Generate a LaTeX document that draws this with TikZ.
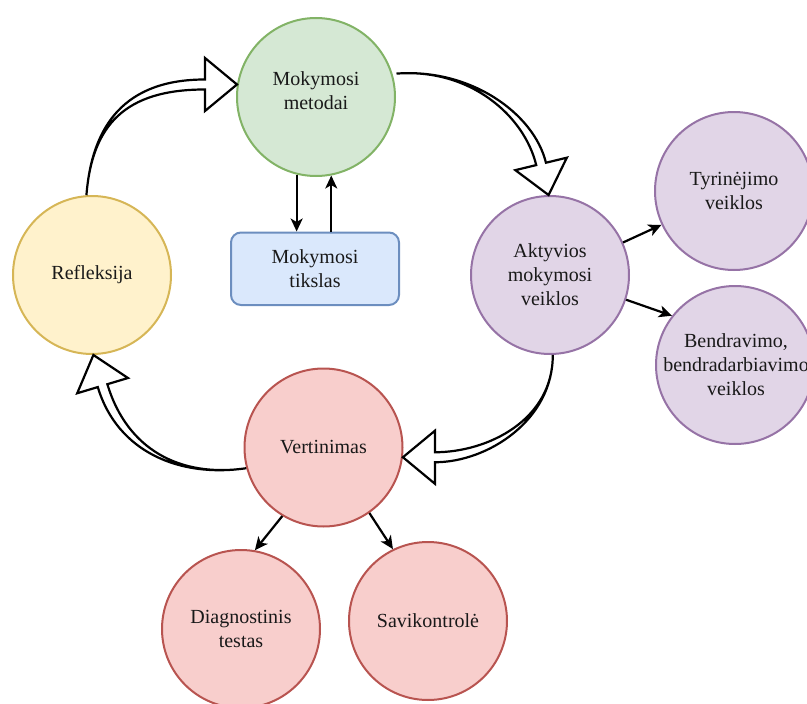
\documentclass[tikz,border=0pt]{standalone}
\usepackage{fontspec}
\setmainfont{Liberation Serif}
\usetikzlibrary{arrows.meta}

\definecolor{greenfill}{HTML}{D5E8D4}
\definecolor{greenline}{HTML}{82B366}
\definecolor{bluefill}{HTML}{DAE8FC}
\definecolor{blueline}{HTML}{6C8EBF}
\definecolor{yellowfill}{HTML}{FFF2CC}
\definecolor{yellowline}{HTML}{D6B656}
\definecolor{purplefill}{HTML}{E1D5E7}
\definecolor{purpleline}{HTML}{9673A6}
\definecolor{redfill}{HTML}{F8CECC}
\definecolor{redline}{HTML}{B85450}

% Curved hollow arrow: #1 start, #2 first control point, #3 tip,
% #4 direction of the head (degrees), #5 distance of second control from tip
\newcommand{\flexarrow}[5]{%
  \begin{scope}[shift={(#3)}, rotate=#4]
    \coordinate (fa-ha) at (-32,5);
    \coordinate (fa-hb) at (-32,-5);
    \coordinate (fa-wa) at (-32,26.5);
    \coordinate (fa-wb) at (-32,-26.5);
    \coordinate (fa-tip) at (0,0);
    \coordinate (fa-ca) at (-#5,5);
    \coordinate (fa-cb) at (-#5,-5);
  \end{scope}
  \draw[hollowarrow] (#1) .. controls (#2) and (fa-ca) .. (fa-ha)
    -- (fa-wa) -- (fa-tip) -- (fa-wb) -- (fa-hb)
    .. controls (fa-cb) and (#2) .. (#1) -- cycle;
}

\begin{document}
\begin{tikzpicture}[x=1pt, y=-1pt,
  bubble/.style={circle, line width=2pt, minimum size=158pt, inner sep=0pt},
  goalbox/.style={rectangle, rounded corners=10pt, line width=2pt,
    minimum width=168pt, minimum height=72.5pt, inner sep=0pt},
  caption/.style={font=\fontsize{20}{24}\selectfont, align=center, text=black!90, inner sep=0pt},
  arr/.style={-{Stealth[length=13pt, width=12pt, inset=3.5pt]}, line width=2.2pt},
  hollowarrow/.style={draw=black, fill=white, line width=2.2pt, line join=miter}]

\useasboundingbox (0,0) rectangle (807,704);

% circles
\node[bubble, draw=greenline, fill=greenfill] (metodai) at (316,97) {};
\node[bubble, draw=purpleline, fill=purplefill] (akt) at (550,275) {};
\node[bubble, draw=purpleline, fill=purplefill] (tyr) at (734,191) {};
\node[bubble, draw=purpleline, fill=purplefill] (bend) at (735,365) {};
\node[bubble, draw=yellowline, fill=yellowfill] (refl) at (92,275) {};
\node[bubble, draw=redline, fill=redfill] (vert) at (323.5,447.5) {};
\node[bubble, draw=redline, fill=redfill] (diag) at (241,629) {};
\node[bubble, draw=redline, fill=redfill] (savi) at (428,621) {};
\node[goalbox, draw=blueline, fill=bluefill] (tikslas) at (315,268.75) {};

% captions
\node[caption] (metodai-t) at ([yshift=6pt]metodai.center) {Mokymosi\\metodai};
\node[caption] (akt-t) at (akt.center) {Aktyvios\\mokymosi\\veiklos};
\node[caption] (tyr-t) at (tyr.center) {Tyrinėjimo\\veiklos};
\node[caption] (bend-t) at ([xshift=1pt]bend.center) {Bendravimo,\\bendradarbiavimo\\veiklos};
\node[caption] (refl-t) at (refl.center) {Refleksija};
\node[caption] (vert-t) at (vert.center) {Vertinimas};
\node[caption] (diag-t) at (diag.center) {Diagnostinis\\testas};
\node[caption] (savi-t) at (savi.center) {Savikontrolė};
\node[caption] (tikslas-t) at (tikslas.center) {Mokymosi\\tikslas};

% plain connectors
\draw[arr] (metodai.256) -- (metodai.256 |- tikslas.north);
\draw[arr] (metodai.281 |- tikslas.north) -- (metodai.281);
\draw[arr] (akt.24) -- (tyr.205);
\draw[arr] (akt.342) -- (bend.142);
\draw[arr] (vert.239) -- (diag.80);
\draw[arr] (vert.305) -- (savi.116);

% cycle of hollow arrows
\flexarrow{refl.94}{92,125}{metodai.171}{0}{112}
\flexarrow{[xshift=4pt]metodai.17}{470,68}{akt.91}{-76.4}{83}
\flexarrow{akt.272}{553,420}{vert.353}{180}{85}
\flexarrow{vert.195}{180,478}{refl.271}{106.7}{100}

\end{tikzpicture}
\end{document}
